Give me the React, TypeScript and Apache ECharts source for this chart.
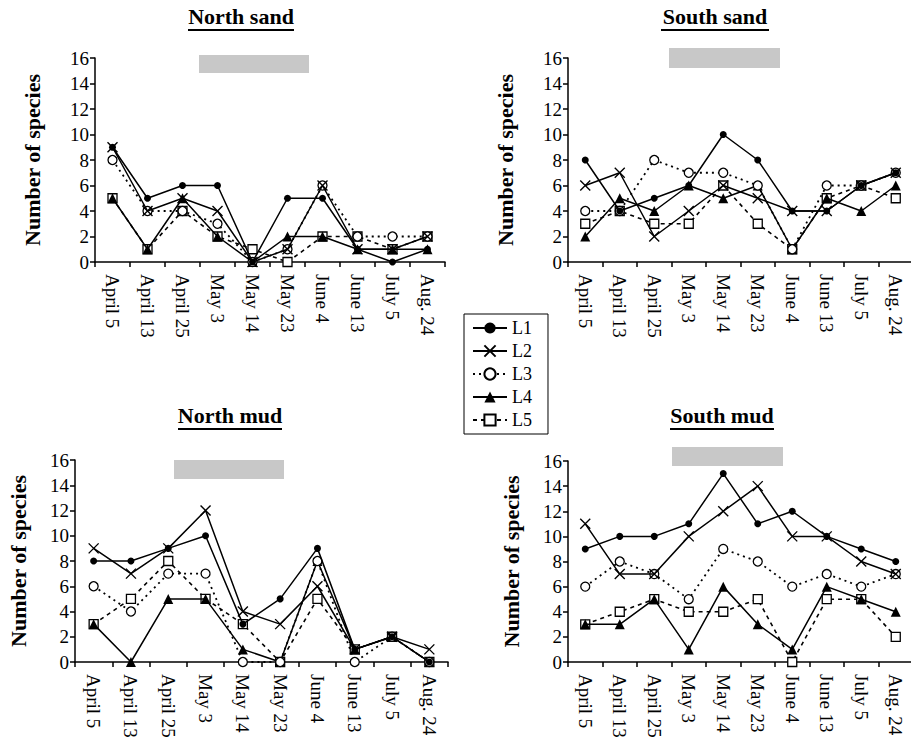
import React, { useEffect, useRef } from "react";
import * as echarts from "echarts";

const categories = ["April 5", "April 13", "April 25", "May 3", "May 14", "May 23", "June 4", "June 13", "July 5", "Aug. 24"];
const seriesNames = ["L1", "L2", "L3", "L4", "L5"];

const northSandL1 = [9, 5, 6, 6, 0, 5, 5, 1, 0, 1];
const northSandL2 = [9, 4, 5, 4, 0, 1, 6, 1, 1, 2];
const northSandL3 = [8, 4, 4, 3, 0, 1, 6, 2, 2, 2];
const northSandL4 = [5, 1, 5, 2, 0, 2, 2, 1, 1, 1];
const northSandL5 = [5, 1, 4, 2, 1, 0, 2, 2, 1, 2];

const southSandL1 = [8, 4, 5, 6, 10, 8, 4, 4, 6, 7];
const southSandL2 = [6, 7, 2, 4, 6, 5, 4, 4, 6, 7];
const southSandL3 = [4, 4, 8, 7, 7, 6, 1, 6, 6, 7];
const southSandL4 = [2, 5, 4, 6, 5, 6, 1, 5, 4, 6];
const southSandL5 = [3, 4, 3, 3, 6, 3, 1, 5, 6, 5];

const northMudL1 = [8, 8, 9, 10, 3, 5, 9, 1, 2, 0];
const northMudL2 = [9, 7, 9, 12, 4, 3, 6, 1, 2, 1];
const northMudL3 = [6, 4, 7, 7, 0, 0, 8, 0, 2, 0];
const northMudL4 = [3, 0, 5, 5, 1, 0, 8, 1, 2, 0];
const northMudL5 = [3, 5, 8, 5, 3, 0, 5, 1, 2, 0];

const southMudL1 = [9, 10, 10, 11, 15, 11, 12, 10, 9, 8];
const southMudL2 = [11, 7, 7, 10, 12, 14, 10, 10, 8, 7];
const southMudL3 = [6, 8, 7, 5, 9, 8, 6, 7, 6, 7];
const southMudL4 = [3, 3, 5, 1, 6, 3, 1, 6, 5, 4];
const southMudL5 = [3, 4, 5, 4, 4, 5, 0, 5, 5, 2];

const panelTitles = ["North sand", "South sand", "North mud", "South mud"];
const yTicks = { min: 0, max: 16, interval: 2 };

const panelData = [
  [northSandL1, northSandL2, northSandL3, northSandL4, northSandL5],
  [southSandL1, southSandL2, southSandL3, southSandL4, southSandL5],
  [northMudL1, northMudL2, northMudL3, northMudL4, northMudL5],
  [southMudL1, southMudL2, southMudL3, southMudL4, southMudL5],
];

const FONT = '"Liberation Serif", "Times New Roman", serif';

const grids = [
  { left: 95, top: 58, width: 350, height: 204 },
  { left: 568, top: 58, width: 345, height: 204 },
  { left: 75, top: 460, width: 373, height: 202 },
  { left: 568, top: 461, width: 345, height: 201 },
];
const titlePos = [
  { x: 241, y: 16, u0: 188, u1: 294, uy: 30 },
  { x: 715, y: 16, u0: 661, u1: 769, uy: 30 },
  { x: 230, y: 415, u0: 178, u1: 282, uy: 429 },
  { x: 722, y: 415, u0: 670, u1: 774, uy: 429 },
];
const bars = [
  { x: 199, y: 55, w: 110, h: 18 },
  { x: 669, y: 48, w: 111, h: 20 },
  { x: 174, y: 460, w: 110, h: 19 },
  { x: 672, y: 447, w: 111, h: 19 },
];
const nameGaps = [52, 52, 46, 46];

const styles: any[] = [
  { symbol: "circle", symbolSize: 7, itemStyle: { color: "#000" }, lineStyle: { color: "#000", width: 1.5, type: "solid" } },
  { symbol: "path://M0,0L10,10M10,0L0,10", symbolSize: 10, itemStyle: { color: "#000", borderColor: "#000", borderWidth: 1.4 }, lineStyle: { color: "#000", width: 1.5, type: "solid" } },
  { symbol: "circle", symbolSize: 9, itemStyle: { color: "#fff", borderColor: "#000", borderWidth: 1.3 }, lineStyle: { color: "#000", width: 1.8, type: [2, 4] } },
  { symbol: "triangle", symbolSize: 10, itemStyle: { color: "#000" }, lineStyle: { color: "#000", width: 1.5, type: "solid" } },
  { symbol: "rect", symbolSize: 9, itemStyle: { color: "#fff", borderColor: "#000", borderWidth: 1.3 }, lineStyle: { color: "#000", width: 1.6, type: [4, 4] } },
];

export default function App() {
  const ref = useRef<HTMLDivElement>(null);
  useEffect(() => {
    if (!ref.current) return;
    const chart = echarts.init(ref.current, null, { renderer: "svg" });
    const series: any[] = [];
    panelData.forEach((arrs, p) => {
      arrs.forEach((arr, s) => {
        series.push({
          type: "line",
          name: seriesNames[s],
          xAxisIndex: p,
          yAxisIndex: p,
          data: arr,
          symbol: styles[s].symbol,
          symbolSize: styles[s].symbolSize,
          showAllSymbol: true,
          itemStyle: styles[s].itemStyle,
          lineStyle: styles[s].lineStyle,
          z: 2 + (5 - s),
        });
      });
    });
    const graphic: any[] = [];
    titlePos.forEach((t, i) => {
      graphic.push({
        type: "text",
        x: t.x,
        y: t.y,
        style: { text: panelTitles[i], font: `bold 22px ${FONT}`, fill: "#000", textAlign: "center", textVerticalAlign: "middle" },
      });
      graphic.push({ type: "line", shape: { x1: t.u0, y1: t.uy, x2: t.u1, y2: t.uy }, style: { stroke: "#000", lineWidth: 2 } });
    });
    bars.forEach((b) => {
      graphic.push({ type: "rect", shape: { x: b.x, y: b.y, width: b.w, height: b.h }, style: { fill: "#c8c8c8" } });
    });
    chart.setOption({
      animation: false,
      backgroundColor: "#fff",
      grid: grids.map((g) => ({ ...g, containLabel: false, outerBoundsMode: "none" })),
      xAxis: grids.map((_, i) => ({
        type: "category",
        gridIndex: i,
        data: categories,
        boundaryGap: true,
        axisLine: { lineStyle: { color: "#000", width: 1.5 } },
        axisTick: { show: true, length: 5, lineStyle: { color: "#000", width: 1.5 } },
        axisLabel: { rotate: -90, interval: 0, margin: 12, color: "#000", fontFamily: FONT, fontSize: 19 },
      })),
      yAxis: grids.map((_, i) => ({
        type: "value",
        gridIndex: i,
        min: yTicks.min,
        max: yTicks.max,
        interval: yTicks.interval,
        name: "Number of species",
        nameLocation: "middle",
        nameGap: nameGaps[i],
        nameRotate: 90,
        nameTextStyle: { color: "#000", fontFamily: FONT, fontSize: 22, fontWeight: "bold" },
        axisLine: { show: true, lineStyle: { color: "#000", width: 1.5 } },
        axisTick: { show: true, length: 5, lineStyle: { color: "#000", width: 1.5 } },
        splitLine: { show: false },
        axisLabel: { margin: 6, color: "#000", fontFamily: FONT, fontSize: 19 },
      })),
      legend: {
        data: seriesNames,
        orient: "vertical",
        left: 464,
        top: 314,
        itemWidth: 34,
        itemHeight: 14,
        itemGap: 5,
        padding: [5, 16, 5, 8],
        borderColor: "#000",
        borderWidth: 1,
        selectedMode: false,
        textStyle: { color: "#000", fontFamily: FONT, fontSize: 18 },
      },
      graphic,
      series,
    });
    return () => chart.dispose();
  }, []);
  return <div ref={ref} style={{ position: "absolute", left: 0, top: 0, width: 911, height: 746, background: "#fff" }} />;
}
